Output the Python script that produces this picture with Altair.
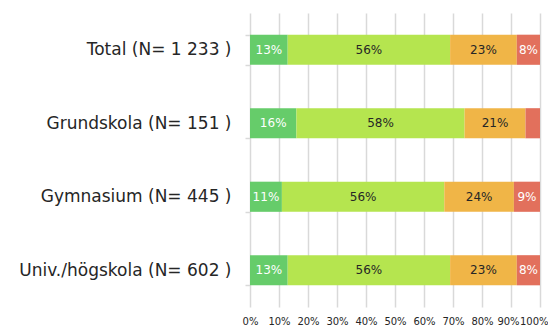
import altair as alt
import pandas as pd

groups = ["Total (N= 1 233 )", "Grundskola (N= 151 )", "Gymnasium (N= 445 )", "Univ./högskola (N= 602 )"]
series = ["A", "B", "C", "D"]
colors = ["#66CC6A", "#B5E54F", "#F0B547", "#E2705C"]
text_colors = ["white", "#262626", "#262626", "white"]
tick_values = [0, 10, 20, 30, 40, 50, 60, 70, 80, 90, 100]
values = {
    "A": [13, 16, 11, 13],
    "B": [56, 58, 56, 56],
    "C": [23, 21, 24, 23],
    "D": [8, 5, 9, 8],
}

rows = []
for si, s in enumerate(series):
    for gi, g in enumerate(groups):
        v = values[s][gi]
        rows.append({"group": g, "series": s, "order": si, "value": v,
                     "label": f"{v}%" if v >= 6 else "", "tcolor": text_colors[si]})
df = pd.DataFrame(rows)

base = alt.Chart(df).transform_stack(
    stack="value", groupby=["group"], as_=["x0", "x1"], sort=[alt.SortField("order")]
).transform_calculate(mid="(datum.x0 + datum.x1) / 2")

y_axis = alt.Axis(domain=False, tickBand="extent", ticks=True, tickSize=5,
                  tickColor="#d9d9d9", tickWidth=1.5,
                  labelFont="DejaVu Sans", labelFontSize=17, labelColor="#262626",
                  labelPadding=14, labelLimit=300)
y_scale = alt.Scale(paddingInner=0.59, paddingOuter=0.295)
x_axis = alt.Axis(values=tick_values, labelExpr="datum.value + '%'",
                  grid=True, gridColor="#d9d9d9", gridWidth=1.5, domain=False,
                  ticks=False, labelFont="DejaVu Sans", labelFontSize=10,
                  labelColor="#262626", labelPadding=9, labelFlush=False,
                  labelOverlap=False,
                  labelAlign={"condition": {"test": "datum.value == 100", "value": "right"},
                              "value": "center"},
                  labelOffset={"condition": [
                      {"test": "datum.value == 100", "value": 8},
                      {"test": "datum.value == 90", "value": -3}],
                      "value": 0})
x_scale = alt.Scale(domain=[0, 100], nice=False)

bars = base.mark_bar().encode(
    x=alt.X("x0:Q", scale=x_scale, title=None, axis=x_axis),
    x2="x1:Q",
    y=alt.Y("group:N", sort=groups, title=None, scale=y_scale, axis=y_axis),
    color=alt.Color("series:N", scale=alt.Scale(domain=series, range=colors), legend=None),
)

texts = base.mark_text(font="DejaVu Sans", fontSize=12).encode(
    x=alt.X("mid:Q", scale=x_scale, title=None, axis=x_axis),
    y=alt.Y("group:N", sort=groups, title=None, scale=y_scale, axis=y_axis),
    text="label:N",
    color=alt.Color("tcolor:N", scale=None),
)

chart = (bars + texts).properties(
    width=290, height=294,
    autosize=alt.AutoSizeParams(type="none"),
    padding={"left": 242, "top": 5, "right": 8, "bottom": 20},
).configure_view(stroke=None).configure_axis(gridOpacity=1)

chart.save("out.html", embed_options={"renderer": "svg", "actions": False})
